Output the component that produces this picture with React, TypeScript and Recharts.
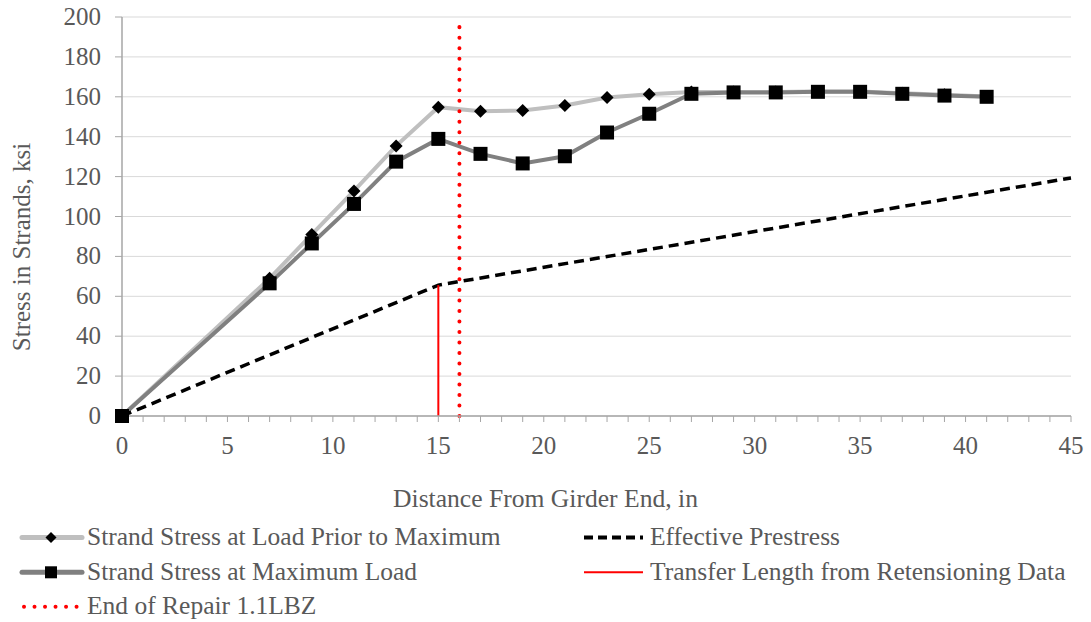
import React from "react";
import { LineChart, Line, XAxis, YAxis, CartesianGrid, Label } from "recharts";

// distance from girder end, in
const priorX = [0, 7, 9, 11, 13, 15, 17, 19, 21, 23, 25, 27, 29, 31, 33, 35, 37, 39, 41];
const priorY = [0, 69, 91, 112.8, 135.4, 154.8, 152.8, 153.1, 155.6, 159.6, 161.3, 162.4, 162.4, 162.4, 162.7, 162.6, 161.8, 161, 160.2];

const maxX = [0, 7, 9, 11, 13, 15, 17, 19, 21, 23, 25, 27, 29, 31, 33, 35, 37, 39, 41];
const maxY = [0, 66.5, 86.5, 106.3, 127.5, 138.9, 131.4, 126.6, 130.2, 142.1, 151.5, 161.5, 162.2, 162.2, 162.5, 162.5, 161.5, 160.6, 160];

const effX = [0, 15, 45];
const effY = [0, 65.6, 119.3];

const transferX = [15, 15];
const transferY = [0, 65.6];

const repairX = [16, 16];
const repairY = [0, 196];

const xTicks = Array.from({ length: 46 }, (_, i) => i);
const xLabelEvery = 5;
const yTicks = [0, 20, 40, 60, 80, 100, 120, 140, 160, 180, 200];

const zip = (xs: number[], ys: number[]) => xs.map((x, i) => ({ x, y: ys[i] }));

const priorData = zip(priorX, priorY);
const maxData = zip(maxX, maxY);
const effData = zip(effX, effY);
const transferData = zip(transferX, transferY);
const repairData = zip(repairX, repairY);

const FONT = "'Liberation Serif', 'Times New Roman', serif";
const FS = 25;
const TITLE_FS = 25.6;
const LEGEND_FS = 25.5;
const TEXT = "#595959";
const AXIS = "#a6a6a6";
const LIGHT = "#bfbfbf";
const DARK = "#808080";
const RED = "#ff0000";

const Diamond = ({ cx, cy, half = 6.5 }: { cx?: number; cy?: number; half?: number }) => {
  if (cx == null || cy == null) return null;
  const r = half;
  return <polygon points={`${cx},${cy - r} ${cx + r},${cy} ${cx},${cy + r} ${cx - r},${cy}`} fill="#000" />;
};

const Square = ({ cx, cy, side = 14 }: { cx?: number; cy?: number; side?: number }) => {
  if (cx == null || cy == null) return null;
  return <rect x={cx - side / 2} y={cy - side / 2} width={side} height={side} fill="#000" />;
};

const XTick = ({ x, y, payload }: any) => {
  if (payload.value % xLabelEvery !== 0) return null;
  return (
    <text x={x} y={y} dy={30} textAnchor="middle" fill={TEXT} fontFamily={FONT} fontSize={FS}>
      {payload.value}
    </text>
  );
};

const YTick = ({ x, y, payload }: any) => (
  <text x={x} y={y} dy={8} textAnchor="end" fill={TEXT} fontFamily={FONT} fontSize={FS}>
    {payload.value}
  </text>
);

const legendLeft = [
  { name: "Strand Stress at Load Prior to Maximum", kind: "prior" },
  { name: "Strand Stress at Maximum Load", kind: "max" },
  { name: "End of Repair 1.1LBZ", kind: "repair" },
];
const legendRight = [
  { name: "Effective Prestress", kind: "eff" },
  { name: "Transfer Length from Retensioning Data", kind: "transfer" },
];

const LegendIcon = ({ kind, x, y }: { kind: string; x: number; y: number }) => {
  const x2 = x + 60;
  const mid = x + 29;
  if (kind === "prior")
    return (
      <g>
        <line x1={x} y1={y} x2={x2} y2={y} stroke={LIGHT} strokeWidth={5} strokeLinecap="round" />
        <Diamond cx={mid} cy={y} half={5.5} />
      </g>
    );
  if (kind === "max")
    return (
      <g>
        <line x1={x} y1={y} x2={x2} y2={y} stroke={DARK} strokeWidth={5} strokeLinecap="round" />
        <Square cx={mid} cy={y} side={12} />
      </g>
    );
  if (kind === "eff")
    return <line x1={x + 1} y1={y} x2={x2} y2={y} stroke="#000" strokeWidth={4} strokeDasharray="9 5" />;
  if (kind === "transfer") return <line x1={x + 1} y1={y} x2={x2} y2={y} stroke={RED} strokeWidth={2} />;
  return (
    <line x1={x + 2} y1={y} x2={x2} y2={y} stroke={RED} strokeWidth={4} strokeDasharray="0.01 10.5" strokeLinecap="round" />
  );
};

const ChartLegend = () => {
  const top = 510;
  const iconY = [537.5, 572.3, 606.7];
  const textY = [545, 579.5, 614];
  return (
    <svg width={1091} height={112} style={{ position: "absolute", left: 0, top }}>
      {legendLeft.map((item, i) => (
        <g key={item.name}>
          <LegendIcon kind={item.kind} x={22} y={iconY[i] - top} />
          <text x={87} y={textY[i] - top} fill={TEXT} fontFamily={FONT} fontSize={LEGEND_FS}>
            {item.name}
          </text>
        </g>
      ))}
      {legendRight.map((item, i) => (
        <g key={item.name}>
          <LegendIcon kind={item.kind} x={583} y={iconY[i] - top} />
          <text x={650} y={textY[i] - top} fill={TEXT} fontFamily={FONT} fontSize={LEGEND_FS}>
            {item.name}
          </text>
        </g>
      ))}
    </svg>
  );
};

export default function App() {
  return (
    <div style={{ position: "absolute", left: 0, top: 0, width: 1091, height: 622, background: "#fff", fontFamily: FONT }}>
      <LineChart width={1091} height={622} margin={{ top: 17, right: 20, bottom: 136, left: 0 }}>
        <CartesianGrid vertical={false} stroke="#d9d9d9" strokeWidth={1} />
        <XAxis
          type="number"
          dataKey="x"
          domain={[0, 45]}
          ticks={xTicks}
          interval={0}
          tick={<XTick />}
          tickSize={6}
          tickLine={{ stroke: AXIS }}
          axisLine={{ stroke: AXIS, strokeWidth: 1.5 }}
          height={70}
        >
          <Label
            content={() => (
              <text x={545.5} y={507} textAnchor="middle" fill={TEXT} fontFamily={FONT} fontSize={TITLE_FS}>
                Distance From Girder End, in
              </text>
            )}
          />
        </XAxis>
        <YAxis
          type="number"
          domain={[0, 200]}
          ticks={yTicks}
          interval={0}
          tick={<YTick />}
          tickSize={7}
          tickMargin={14}
          tickLine={{ stroke: AXIS }}
          axisLine={{ stroke: AXIS, strokeWidth: 1.5 }}
          width={122}
        >
          <Label
            content={() => (
              <text
                x={30}
                y={247}
                textAnchor="middle"
                fill={TEXT}
                fontFamily={FONT}
                fontSize={FS}
                transform="rotate(-90 30 247)"
              >
                Stress in Strands, ksi
              </text>
            )}
          />
        </YAxis>
        <Line
          data={priorData}
          dataKey="y"
          stroke={LIGHT}
          strokeWidth={4}
          dot={(p: any) => <Diamond key={`d${p.index}`} cx={p.cx} cy={p.cy} />}
          activeDot={false}
          isAnimationActive={false}
        />
        <Line
          data={maxData}
          dataKey="y"
          stroke={DARK}
          strokeWidth={4}
          dot={(p: any) => <Square key={`s${p.index}`} cx={p.cx} cy={p.cy} />}
          activeDot={false}
          isAnimationActive={false}
        />
        <Line
          data={effData}
          dataKey="y"
          stroke="#000"
          strokeWidth={3.5}
          strokeDasharray="10 6"
          dot={false}
          activeDot={false}
          isAnimationActive={false}
        />
        <Line
          data={transferData}
          dataKey="y"
          stroke={RED}
          strokeWidth={2}
          dot={false}
          activeDot={false}
          isAnimationActive={false}
        />
        <Line
          data={repairData}
          dataKey="y"
          stroke={RED}
          strokeWidth={4}
          strokeDasharray="0.01 10.5"
          strokeLinecap="round"
          dot={false}
          activeDot={false}
          isAnimationActive={false}
        />
      </LineChart>
      <ChartLegend />
    </div>
  );
}
